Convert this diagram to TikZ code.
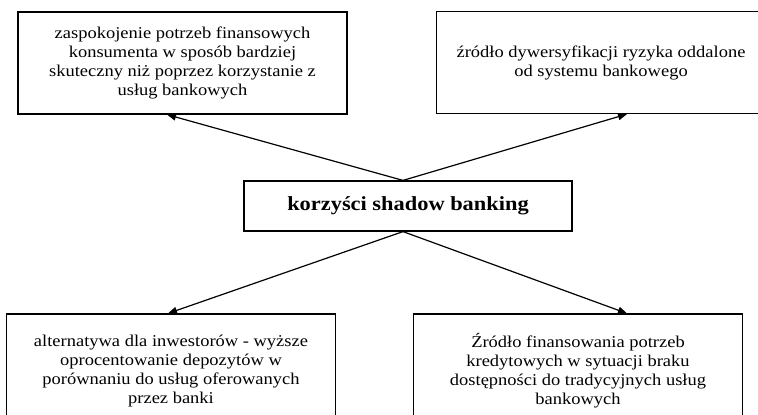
\documentclass[tikz,border=0pt]{standalone}
\usepackage{fontspec}
\setmainfont[FakeStretch=1.12]{Liberation Serif}
\usetikzlibrary{arrows.meta}
\begin{document}
\begin{tikzpicture}[x=1pt,y=-1pt,
  box/.style={draw,line width=1.2pt,rectangle,minimum width=329pt,minimum height=102pt,inner sep=0pt,align=center,font=\fontsize{16.5}{19}\selectfont},
  lowbox/.style={box,minimum height=114pt},
  cbox/.style={draw,line width=1.2pt,rectangle,minimum width=328pt,minimum height=50pt,inner sep=0pt,align=center,font=\fontsize{20}{22}\selectfont\bfseries},
  arr/.style={line width=1.2pt,-{Triangle[length=9pt,width=7pt]}}]
\useasboundingbox (0,0) rectangle (758,415);
\clip (0,0) rectangle (758,415);
\node[box] (b1) at (182.5,63) {zaspokojenie potrzeb finansowych\\konsumenta w sposób bardziej\\skuteczny niż poprzez korzystanie z\\usług bankowych};
\node[box] (b2) at (601,62.5) {źródło dywersyfikacji ryzyka oddalone\\od systemu bankowego};
\node[cbox] (c) at (408,206) {korzyści shadow banking};
\node[lowbox] (b3) at (171,371) {alternatywa dla inwestorów - wyższe\\oprocentowanie depozytów w\\porównaniu do usług oferowanych\\przez banki};
\node[lowbox] (b4) at (578,371) {Źródło finansowania potrzeb\\kredytowych w sytuacji braku\\dostępności do tradycyjnych usług\\bankowych};
\coordinate (ct) at ([xshift=-5pt]c.north);
\coordinate (cb) at ([xshift=-5pt]c.south);
\draw[arr] (ct) -- ([xshift=-15.5pt]b1.south);
\draw[arr] (ct) -- ([xshift=26pt]b2.south);
\draw[arr] (cb) -- ([xshift=-3pt]b3.north);
\draw[arr] (cb) -- ([xshift=49pt]b4.north);
\end{tikzpicture}
\end{document}
